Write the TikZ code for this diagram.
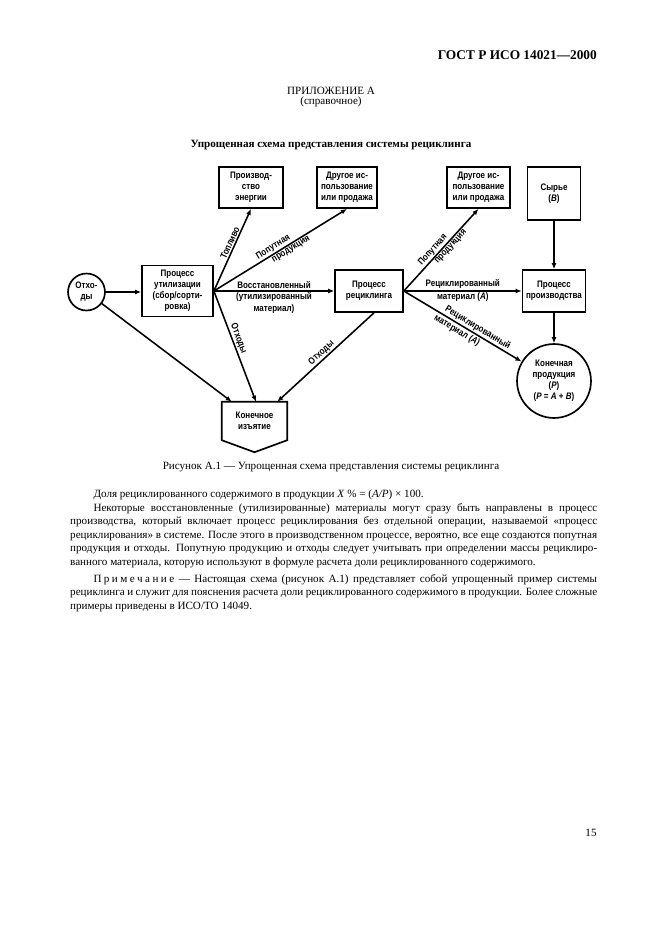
\documentclass[tikz,border=0pt]{standalone}
\usepackage{fontspec}
\setmainfont{Liberation Serif}
\newfontfamily\dsans[FakeStretch=0.85]{Liberation Sans}
\usetikzlibrary{arrows.meta,calc}
\newcommand{\spc}[1]{#1\hspace{2.2pt}}
\begin{document}
\begin{tikzpicture}[x=0.9006pt,y=-0.9006pt,
  lbl/.style={font=\dsans\bfseries\fontsize{8.5}{10}\selectfont, align=center, inner sep=1pt},
  box/.style={draw, line width=1.5pt, lbl, inner sep=0pt},
  circ/.style={draw, circle, line width=1.5pt, lbl, inner sep=0pt},
  arr/.style={line width=1.4pt, -{Latex[length=5.5pt,width=4.5pt]}},
  txt/.style={inner sep=0pt, font=\fontsize{10}{12.25}\selectfont}]
\useasboundingbox[fill=white] (0,0) rectangle (661,936);

% page text
\node[anchor=east, inner sep=0pt, font=\bfseries\fontsize{12}{14}\selectfont] (hdr) at (597,55) {ГОСТ Р ИСО 14021—2000};
\node[txt] (annex) at (331,91) {ПРИЛОЖЕНИЕ А};
\node[txt] (annex2) at (331,102) {(справочное)};
\node[txt, font=\bfseries\fontsize{10}{12}\selectfont] (title) at (331,145) {Упрощенная схема представления системы рециклинга};

% nodes
\node[circ, minimum size=33.3pt] (waste) at (86.5,292) {Отхо-\\ды};
\node[box, minimum width=64pt, minimum height=46pt] (util) at (177.5,291) {Процесс\\утилизации\\(сбор/сорти-\\ровка)};
\node[box, minimum width=57.6pt, minimum height=37pt] (energy) at (251,187.5) {Производ-\\ство\\энергии};
\node[box, minimum width=54pt, minimum height=37pt] (other1) at (347,187.5) {Другое ис-\\пользование\\или продажа};
\node[box, minimum width=61.2pt, minimum height=37.8pt] (recyc) at (369,291) {Процесс\\рециклинга};
\node[box, minimum width=56.7pt, minimum height=37pt] (other2) at (478.5,187.5) {Другое ис-\\пользование\\или продажа};
\node[box, minimum width=47.7pt, minimum height=47.7pt] (raw) at (554,193.5) {Сырье\\(\textit{B})};
\node[box, minimum width=56.7pt, minimum height=37.8pt] (prod) at (554,291) {Процесс\\производства};
\node[circ, minimum size=66.6pt] (final) at (554,381) {Конечная\\продукция\\(\textit{P})\\(\textit{P} = \textit{A} + \textit{B})};
\node[lbl, minimum width=58.5pt, minimum height=34.2pt, inner sep=0pt] (disp) at (254.5,421) {Конечное\\изъятие};
\draw[line width=1.5pt] (disp.north west) -- (disp.north east) -- (disp.south east)
  -- ($(disp.south)+(0,12)$) -- (disp.south west) -- cycle;

\coordinate (d1) at ($(disp.north west)+(10,0)$);
\coordinate (d2) at ($(disp.north)+(1.5,0)$);
\coordinate (d3) at ($(disp.north east)+(-10,0)$);
\coordinate (rs) at ($(recyc.south)+(5,0)$);

% connectors
\draw[arr] (waste.east) -- (util.west |- waste.east);
\draw[arr] (waste) -- (d1);
\draw[arr] (util.east) -- node[lbl, sloped, above, pos=0.56] {Топливо} (energy.south);
\draw[arr] (util.east) -- node[lbl, sloped, above, pos=0.47] {Попутная}
  node[lbl, sloped, below, pos=0.56] {продукция} (other1.south);
\draw[arr] (util.east) -- node[lbl, above, inner sep=1.5pt] {Восстановленный}
  node[lbl, below] {(утилизированный\\материал)} (recyc.west);
\draw[arr] (util.east) -- node[lbl, sloped, above, pos=0.45] {Отходы} (d2);
\draw[arr] (rs) -- node[lbl, sloped, above, pos=0.5] {Отходы} (d3);
\draw[arr] (recyc.east) -- node[lbl, sloped, above, pos=0.45] {Попутная}
  node[lbl, sloped, below, pos=0.58] {продукция} (other2.south);
\draw[arr] (recyc.east) -- node[lbl, above, inner sep=1.5pt] {Рециклированный}
  node[lbl, below] {материал (\textit{A})} (prod.west);
\draw[arr] (recyc.east) -- node[lbl, sloped, above, pos=0.6, inner sep=1pt] {Рециклированный}
  node[lbl, sloped, below, pos=0.48, inner sep=1.5pt] {материал (\textit{A})} (final);
\draw[arr] (raw.south) -- (prod.north);
\draw[arr] (prod.south) -- (final.north);

% caption and body
\node[txt] (cap) at (331,467) {Рисунок А.1 — Упрощенная схема представления системы рециклинга};
\node[txt, anchor=north west, text width=474.6pt, align=justify] (body) at (70,489.5) {%
\hspace*{21pt}Доля рециклированного содержимого в продукции \textit{X}~\% = (\textit{A/P}) × 100.\par
\hspace*{21pt}Некоторые восстановленные (утилизированные) материалы могут сразу быть направлены в процесс\linebreak
производства, который включает процесс рециклирования без отдельной операции, называемой «процесс\linebreak
рециклирования» в системе. После этого в производственном процессе, вероятно, все еще создаются попутная\linebreak
продукция и отходы. Попутную продукцию и отходы следует учитывать при определении массы рециклиро-\linebreak
ванного материала, которую используют в формуле расчета доли рециклированного содержимого.\par
\vspace{3pt}
\hspace*{21pt}\spc{П}\spc{р}\spc{и}\spc{м}\spc{е}\spc{ч}\spc{а}\spc{н}\spc{и}е — Настоящая схема (рисунок А.1) представляет собой упрощенный пример системы\linebreak
рециклинга и служит для пояснения расчета доли рециклированного содержимого в продукции. Более сложные\linebreak
примеры приведены в ИСО/ТО 14049.\par};
\node[txt] (pnum) at (591,833) {15};
\end{tikzpicture}
\end{document}
